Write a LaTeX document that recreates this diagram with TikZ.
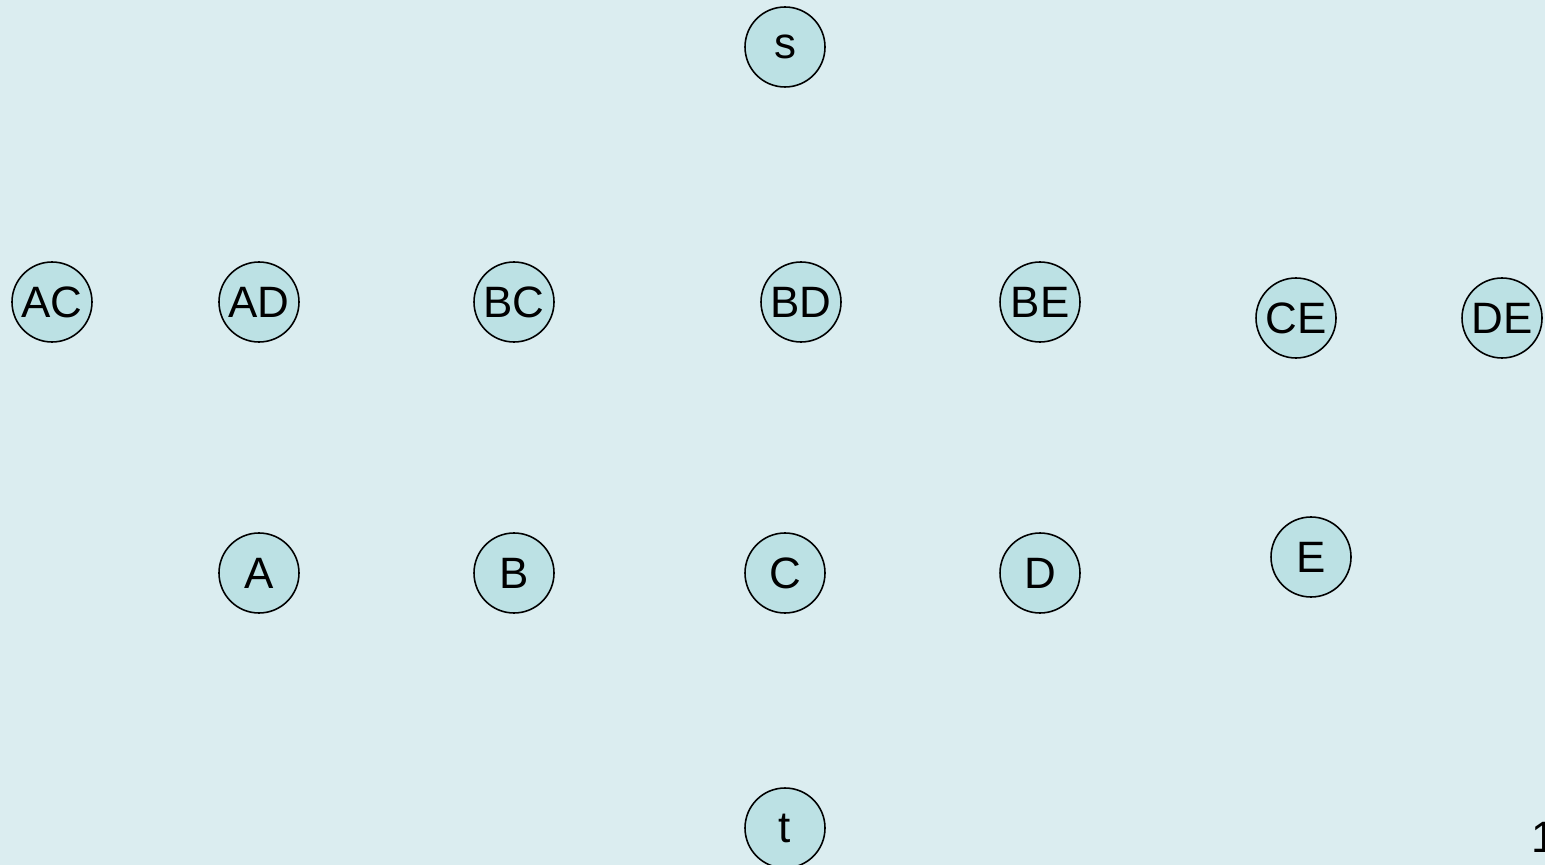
\documentclass[tikz,border=0pt]{standalone}
\usepackage{fontspec}
\setmainfont{Liberation Sans}
\definecolor{paleaqua}{RGB}{219,237,240}
\definecolor{softteal}{RGB}{188,225,228}
\usetikzlibrary{positioning}

\begin{document}
\begin{tikzpicture}[
    vertex/.style={circle, draw=black, line width=0.9pt, fill=softteal,
        minimum size=1.6cm, inner sep=0pt, font=\fontsize{25}{25}\selectfont}
    ]
    % background and bounds
    \fill[paleaqua] (0,0) rectangle (30.9,-17.3);
    \clip (0,0) rectangle (30.9,-17.3);

    % source
    \node[vertex] (s) at (15.7,-0.94) {s};

    % pair nodes
    \node[vertex] (AC) at (1.04,-6.04) {AC};
    \node[vertex] (AD) at (5.18,-6.04) {AD};
    \node[vertex] (BC) at (10.28,-6.04) {BC};
    \node[vertex] (BD) at (16.02,-6.04) {BD};
    \node[vertex] (BE) at (20.8,-6.04) {BE};
    \node[vertex] (CE) at (25.92,-6.36) {CE};
    \node[vertex] (DE) at (30.04,-6.36) {DE};

    % single nodes
    \node[vertex] (A) at (5.18,-11.46) {A};
    \node[vertex] (B) at (10.28,-11.46) {B};
    \node[vertex] (C) at (15.7,-11.46) {C};
    \node[vertex] (D) at (20.8,-11.46) {D};
    \node[vertex] (E) at (26.22,-11.14) {E};

    % sink
    \node[vertex] (t) at (15.7,-16.56) {t};

    % page number
    \node[anchor=west, inner sep=0pt, font=\fontsize{25}{25}\selectfont] (pagenum) at (30.62,-16.75) {1};
\end{tikzpicture}
\end{document}
